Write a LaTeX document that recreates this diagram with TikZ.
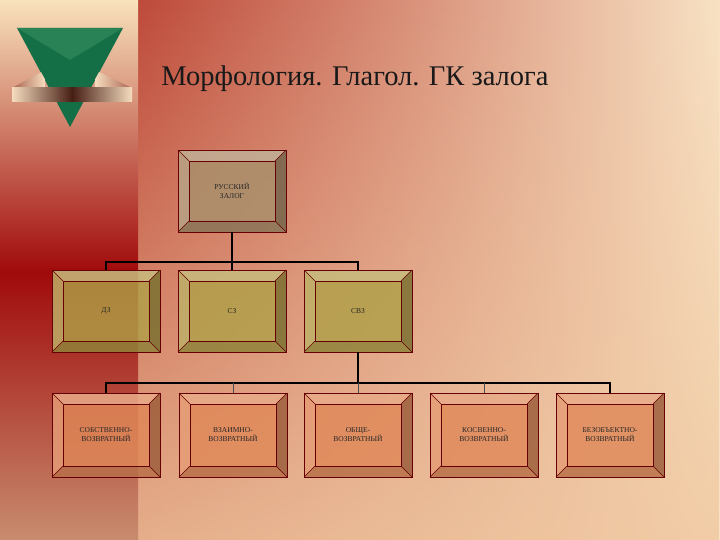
\documentclass[tikz,border=0pt]{standalone}
\usepackage{fontspec}
\setmainfont{Liberation Serif}
\usetikzlibrary{fadings}
\definecolor{rootc}{HTML}{A8906C}
\definecolor{midc}{HTML}{B0A048}
\definecolor{lowc}{HTML}{E08858}
\definecolor{bgred}{HTML}{BE4A3A}
\definecolor{bgcream}{HTML}{F8E2C4}
\definecolor{bgpeach}{HTML}{F0C8A0}
\definecolor{stripTop}{HTML}{F8E2BC}
\definecolor{stripMid}{HTML}{A00A0A}
\definecolor{stripBot}{HTML}{C88C6E}
\definecolor{emGreen}{HTML}{146E46}
\definecolor{emLight}{HTML}{3C9664}
\definecolor{ribLight}{HTML}{F5DCBE}
\definecolor{ribDark}{HTML}{461E14}
\definecolor{ribBrown}{HTML}{AA6450}
\tikzset{
  conn/.style={line width=2.2pt,black},
  thinconn/.style={line width=0.6pt,black!70},
  lbl/.style={font=\fontsize{7.5}{9}\selectfont, align=center, text=black!85}
}
\newcommand{\bevbox}[7]{%
  \fill[#6, opacity=0.82] (#2,#3) rectangle (#4,#5);
  \fill[white, opacity=0.25] (#2,#3) -- (#4,#3) -- (#4-11,#3+11) -- (#2+11,#3+11) -- cycle;
  \fill[white, opacity=0.15] (#2,#3) -- (#2+11,#3+11) -- (#2+11,#5-11) -- (#2,#5) -- cycle;
  \fill[black, opacity=0.25] (#4,#3) -- (#4,#5) -- (#4-11,#5-11) -- (#4-11,#3+11) -- cycle;
  \fill[black, opacity=0.15] (#2,#5) -- (#4,#5) -- (#4-11,#5-11) -- (#2+11,#5-11) -- cycle;
  \draw[red!40!black, line width=0.6pt] (#2,#3) rectangle (#4,#5);
  \draw[red!40!black, line width=0.5pt] (#2+11,#3+11) rectangle (#4-11,#5-11);
  \draw[red!40!black, line width=0.4pt] (#2,#3)--(#2+11,#3+11) (#4,#3)--(#4-11,#3+11) (#2,#5)--(#2+11,#5-11) (#4,#5)--(#4-11,#5-11);
  \node[lbl, minimum width=#4-#2, minimum height=#5-#3, inner sep=0pt] (#1) at ({(#2+#4)/2},{(#3+#5)/2}) {#7};
}
\begin{document}
\begin{tikzpicture}[x=1pt,y=-1pt]
\useasboundingbox (0,0) rectangle (720,540);
% background
\shade[left color=bgred, right color=bgcream] (138,0) rectangle (720,540);
\fill[bgpeach, path fading=north, opacity=0.8] (138,0) rectangle (720,540);
\shade[top color=stripTop, bottom color=stripMid] (0,0) rectangle (138,272);
\shade[top color=stripMid, bottom color=stripBot] (0,271) rectangle (138,540);
% emblem
\fill[emGreen] (17,28) -- (123,28) -- (70,127) -- cycle;
\fill[emLight, opacity=0.5] (17,28) -- (123,28) -- (70,60) -- cycle;
\shade[left color=ribBrown, right color=ribLight] (12,88) -- (45,70) -- (45,88) -- cycle;
\shade[left color=ribLight, right color=ribBrown] (95,70) -- (132,88) -- (95,88) -- cycle;
\fill[emGreen] (40,70) -- (100,70) -- (90,88) -- (50,88) -- cycle;
\shade[left color=ribLight, right color=ribDark] (12,88) rectangle (72.5,102);
\shade[left color=ribDark, right color=ribLight] (72,88) rectangle (132,102);
% title
\node[font=\fontsize{28.5}{32}\selectfont, text=black!90] (title) at (355,79) {Морфология. Глагол. ГК залога};
% boxes
\bevbox{root}{178}{150}{286}{232}{rootc}{РУССКИЙ\\ЗАЛОГ}
\bevbox{dz}{52}{270}{160}{352}{midc}{ДЗ}
\bevbox{sz}{178}{270}{286}{352}{midc}{СЗ}
\bevbox{svz}{304}{270}{412}{352}{midc}{СВЗ}
\bevbox{a}{52}{393}{160}{477}{lowc}{СОБСТВЕННО-\\ВОЗВРАТНЫЙ}
\bevbox{b}{179}{393}{287}{477}{lowc}{ВЗАИМНО-\\ВОЗВРАТНЫЙ}
\bevbox{c}{304}{393}{412}{477}{lowc}{ОБЩЕ-\\ВОЗВРАТНЫЙ}
\bevbox{d}{430}{393}{538}{477}{lowc}{КОСВЕННО-\\ВОЗВРАТНЫЙ}
\bevbox{e}{556}{393}{664}{477}{lowc}{БЕЗОБЪЕКТНО-\\ВОЗВРАТНЫЙ}
% connectors level 1
\coordinate (j1) at (232,262);
\draw[conn] (root.south) -- (j1);
\draw[conn] (j1) -| (dz.north);
\draw[conn] (j1) -- (sz.north);
\draw[conn] (j1) -| (svz.north);
% connectors level 2
\coordinate (j2) at (358,383);
\draw[conn] (svz.south) -- (j2);
\draw[conn] (j2) -| (a.north);
\draw[conn] (j2) -| (e.north);
\draw[thinconn] (b.north) -- (b.north |- j2);
\draw[thinconn] (c.north) -- (c.north |- j2);
\draw[thinconn] (d.north) -- (d.north |- j2);
\end{tikzpicture}
\end{document}
